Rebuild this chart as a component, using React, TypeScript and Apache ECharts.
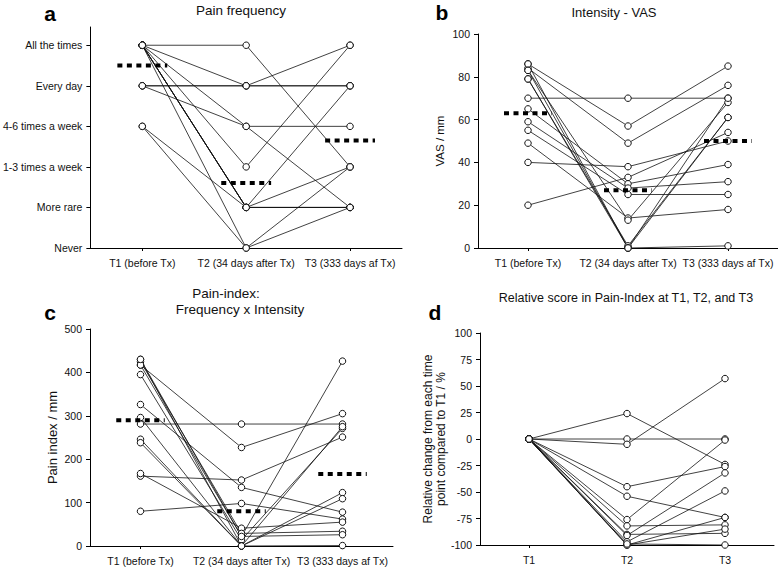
import React, { useEffect, useRef } from 'react';
import * as echarts from 'echarts';

// ---- Category / tick labels ----
const timeLabelsLong = ['T1 (before Tx)', 'T2 (34 days after Tx)', 'T3 (333 days af Tx)'];
const timeLabelsShort = ['T1', 'T2', 'T3'];
const freqLabels = ['Never', 'More rare', '1-3 times a week', '4-6 times a week', 'Every day', 'All the times'];

// ---- Panel a: pain frequency (0 = Never ... 5 = All the times), one entry per subject ----
const freqT1 = [5, 5, 5, 5, 5, 5, 5, 5, 4, 4, 4, 3, 3, 5];
const freqT2 = [5, 4, 3, 2, 1, 1, 1, 0, 4, 4, 3, 1, 0, 1];
const freqT3 = [2, 5, 1, 5, 4, 1, 2, 2, 4, 4, 3, 1, 1, 1];
const freqMeans = [4.5, 1.6, 2.65];

// ---- Panel b: intensity VAS (mm) ----
const vasT1 = [70, 86, 84, 40, 20, 65, 59, 55, 49, 83, 79, 79, 86, 83];
const vasT2 = [70, 57, 49, 38, 33, 30, 28, 25, 14, 13, 1, 0, 0, 0];
const vasT3 = [70, 85, 76, 50, 54, 39, 31, 25, 18, 68, 61, 1, 70, 61];
const vasMeans = [63, 27, 50];

// ---- Panel c: pain index ----
const idxT1 = [281, 417, 161, 326, 80, 430, 395, 246, 238, 167, 425, 417, 430, 296];
const idxT2 = [281, 227, 152, 135, 98, 22, 14, 0, 0, 41, 29, 22, 0, 0];
const idxT3 = [281, 305, 251, 78, 62, 426, 271, 123, 109, 55, 34, 26, 1, 275];
const idxMeans = [290, 80, 166];

// ---- Panel d: relative change (%) ----
const relT1 = [0, 0, 0, 0, 0, 0, 0, 0, 0, 0, 0, 0, 0];
const relT2 = [24, 0, -5, -45, -54, -76, -82, -90, -91, -97, -100, -100, -99];
const relT3 = [-24, 0, 57, -26, -74, -1, -81, -89, -32, -49, -74, -85, -100];

const FONT = '"Liberation Sans", Arial, sans-serif';
const INK = '#111';

export default function App() {
  const ref = useRef<HTMLDivElement>(null);

  useEffect(() => {
    if (!ref.current) return;
    const chart = echarts.init(ref.current, undefined, { renderer: 'svg' });

    const panels = [
      { t1: freqT1, t2: freqT2, t3: freqT3, means: freqMeans },
      { t1: vasT1, t2: vasT2, t3: vasT3, means: vasMeans },
      { t1: idxT1, t2: idxT2, t3: idxT3, means: idxMeans },
      { t1: relT1, t2: relT2, t3: relT3, means: null as number[] | null },
    ];

    const series: any[] = [];
    panels.forEach((p, pi) => {
      p.t1.forEach((v, i) => {
        series.push({
          type: 'line',
          xAxisIndex: pi,
          yAxisIndex: pi,
          data: [[1, v], [2, p.t2[i]], [3, p.t3[i]]],
          symbol: 'circle',
          symbolSize: 6.5,
          showSymbol: true,
          clip: false,
          lineStyle: { color: INK, width: 0.8 },
          itemStyle: { color: '#fff', borderColor: INK, borderWidth: 1 },
          z: 2,
        });
      });
      if (p.means) {
        p.means.forEach((m, ti) => {
          series.push({
            type: 'line',
            xAxisIndex: pi,
            yAxisIndex: pi,
            data: [[ti + 1 - 0.24, m], [ti + 1 + 0.24, m]],
            symbol: 'none',
            clip: false,
            lineStyle: { color: '#000', width: 4, type: [5, 4.5] },
            z: 3,
          });
        });
      }
    });

    const grids = [
      { left: 90, top: 27, width: 312, height: 221 },
      { left: 478, top: 34, width: 300, height: 214 },
      { left: 90, top: 329, width: 303, height: 217 },
      { left: 480, top: 333, width: 294, height: 212 },
    ];

    const mkX = (gi: number, labels: string[]) => ({
      type: 'value',
      gridIndex: gi,
      min: 0.5,
      max: 3.5,
      axisLine: { show: true, onZero: false, lineStyle: { color: '#000', width: 1 } },
      axisTick: { show: true, customValues: [1, 2, 3], length: 3, lineStyle: { color: '#000' } },
      axisLabel: {
        customValues: [1, 2, 3],
        formatter: (v: number) => labels[Math.round(v) - 1] ?? '',
        color: INK,
        fontSize: 10.5,
        fontFamily: FONT,
        margin: 9,
      },
      splitLine: { show: false },
    });

    const yCommon = {
      type: 'value',
      axisLine: { show: true, onZero: false, lineStyle: { color: '#000', width: 1 } },
      axisTick: { show: true, length: 4, lineStyle: { color: '#000' } },
      splitLine: { show: false },
      nameLocation: 'middle',
      nameRotate: 90,
      nameTextStyle: { color: INK, fontFamily: FONT, fontSize: 11.5 },
    };
    const yLabel = { color: INK, fontSize: 10.5, fontFamily: FONT, margin: 8 };

    const option: any = {
      animation: false,
      backgroundColor: '#fff',
      grid: grids,
      xAxis: [
        mkX(0, timeLabelsLong),
        mkX(1, timeLabelsLong),
        mkX(2, timeLabelsLong),
        mkX(3, timeLabelsShort),
      ],
      yAxis: [
        {
          ...yCommon,
          gridIndex: 0,
          min: 0,
          max: 5.45,
          axisTick: { ...yCommon.axisTick, customValues: [0, 1, 2, 3, 4, 5] },
          axisLabel: {
            ...yLabel,
            customValues: [0, 1, 2, 3, 4, 5],
            formatter: (v: number) => freqLabels[Math.round(v)] ?? '',
          },
        },
        {
          ...yCommon,
          gridIndex: 1,
          min: 0,
          max: 100,
          interval: 20,
          axisLabel: yLabel,
          name: 'VAS / mm',
          nameGap: 32,
        },
        {
          ...yCommon,
          gridIndex: 2,
          min: 0,
          max: 500,
          interval: 100,
          axisLabel: yLabel,
          name: 'Pain index / mm',
          nameGap: 31,
          nameTextStyle: { ...yCommon.nameTextStyle, fontSize: 13 },
        },
        {
          ...yCommon,
          gridIndex: 3,
          min: -100,
          max: 100,
          interval: 25,
          axisLabel: yLabel,
          name: 'Relative change from each time\npoint compared to T1 / %',
          nameGap: 33,
          nameTextStyle: { ...yCommon.nameTextStyle, fontSize: 12, lineHeight: 13 },
        },
      ],
      series,
      graphic: [
        { type: 'text', x: 50, y: 13, style: { text: 'a', font: `bold 21px ${FONT}`, fill: '#000', textAlign: 'center', textVerticalAlign: 'middle' } },
        { type: 'text', x: 442, y: 12, style: { text: 'b', font: `bold 21px ${FONT}`, fill: '#000', textAlign: 'center', textVerticalAlign: 'middle' } },
        { type: 'text', x: 50, y: 312, style: { text: 'c', font: `bold 21px ${FONT}`, fill: '#000', textAlign: 'center', textVerticalAlign: 'middle' } },
        { type: 'text', x: 435, y: 312, style: { text: 'd', font: `bold 21px ${FONT}`, fill: '#000', textAlign: 'center', textVerticalAlign: 'middle' } },
        { type: 'text', x: 241, y: 10, style: { text: 'Pain frequency', font: `13.5px ${FONT}`, fill: INK, textAlign: 'center', textVerticalAlign: 'middle' } },
        { type: 'text', x: 614, y: 12, style: { text: 'Intensity - VAS', font: `13px ${FONT}`, fill: INK, textAlign: 'center', textVerticalAlign: 'middle' } },
        { type: 'text', x: 226, y: 293, style: { text: 'Pain-index:', font: `13.5px ${FONT}`, fill: INK, textAlign: 'center', textVerticalAlign: 'middle' } },
        { type: 'text', x: 240, y: 309, style: { text: 'Frequency x Intensity', font: `13.5px ${FONT}`, fill: INK, textAlign: 'center', textVerticalAlign: 'middle' } },
        { type: 'text', x: 626, y: 298, style: { text: 'Relative score in Pain-Index at T1, T2, and T3', font: `12.5px ${FONT}`, fill: INK, textAlign: 'center', textVerticalAlign: 'middle' } },
      ],
    };

    chart.setOption(option);
    return () => chart.dispose();
  }, []);

  return (
    <div
      ref={ref}
      style={{ position: 'fixed', left: 0, top: 0, width: 778, height: 567, background: '#fff' }}
    />
  );
}
